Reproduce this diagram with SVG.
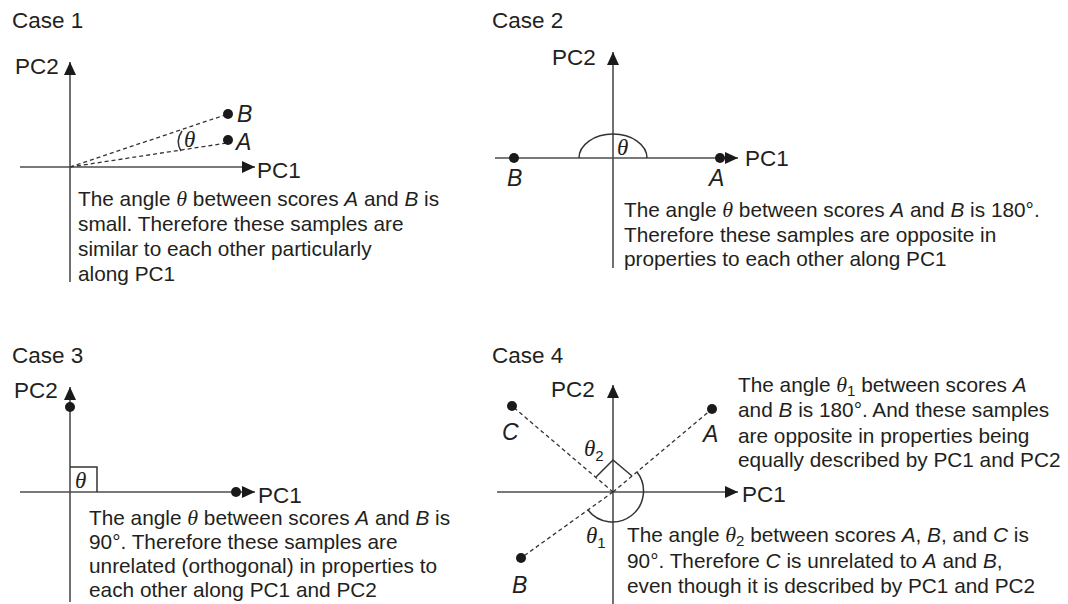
<svg xmlns="http://www.w3.org/2000/svg" width="1068" height="604" viewBox="0 0 1068 604">
<style>
text{font-family:"Liberation Sans",Arial,sans-serif;font-size:20.8px;fill:#231f20}
.lbl{font-size:22.5px}
.pt{font-size:23px;font-style:italic}
.th{font-family:"Liberation Serif","Times New Roman",serif;font-style:italic;font-size:22px}
.thl{font-family:"Liberation Serif","Times New Roman",serif;font-style:italic;font-size:23px}
.it{font-style:italic}
.sub{font-size:15px}
.axis{stroke:#4d4d4d;stroke-width:1.6;fill:none}
.dash{stroke:#333;stroke-width:1.3;stroke-dasharray:4 3;fill:none}
.mark{stroke:#333;stroke-width:1.5;fill:none}
.dot{fill:#1a1a1a}
</style>
<defs>
<marker id="arr" markerUnits="userSpaceOnUse" markerWidth="14" markerHeight="12" refX="13" refY="6" orient="auto">
<path d="M0,0 L13,6 L0,12 z" fill="#1a1a1a"/>
</marker>
</defs>
<rect width="1068" height="604" fill="#fff"/>

<g id="case1">
<text class="lbl" x="12" y="28">Case 1</text>
<g id="c1-axes">
<line class="axis" x1="70" y1="282" x2="70" y2="62" marker-end="url(#arr)"/>
<line class="axis" x1="20" y1="167" x2="255" y2="167" marker-end="url(#arr)"/>
<text class="lbl" x="15" y="74">PC2</text>
<text class="lbl" x="257" y="178">PC1</text>
</g>
<g id="c1-connectors">
<line class="dash" x1="70" y1="167" x2="228" y2="114"/>
<line class="dash" x1="70" y1="167" x2="227" y2="143"/>
<path class="mark" d="M182,131 Q175,141 181,151"/>
</g>
<g id="c1-B"><circle class="dot" cx="228" cy="114" r="5"/><text class="pt" x="237" y="122">B</text></g>
<g id="c1-A"><circle class="dot" cx="228" cy="140" r="5"/><text class="pt" x="236" y="150">A</text></g>
<text class="thl" x="184" y="147">θ</text>
<text x="78" y="206">The angle <tspan class="th">θ</tspan> between scores <tspan class="it">A</tspan> and <tspan class="it">B</tspan> is</text>
<text x="78" y="231">small. Therefore these samples are</text>
<text x="78" y="256">similar to each other particularly</text>
<text x="78" y="281">along PC1</text>
</g>

<g id="case2">
<text class="lbl" x="492" y="28">Case 2</text>
<g id="c2-axes">
<line class="axis" x1="613" y1="268" x2="613" y2="52" marker-end="url(#arr)"/>
<line class="axis" x1="495" y1="158" x2="738" y2="158" marker-end="url(#arr)"/>
<text class="lbl" x="552" y="65">PC2</text>
<text class="lbl" x="745" y="166">PC1</text>
</g>
<g id="c2-connectors">
<path class="mark" d="M579,158 A34,24 0 0 1 647,158"/>
</g>
<g id="c2-B"><circle class="dot" cx="514" cy="158" r="5"/><text class="pt" x="507" y="186">B</text></g>
<g id="c2-A"><circle class="dot" cx="720" cy="158" r="5"/><text class="pt" x="709" y="186">A</text></g>
<text class="thl" x="617" y="155">θ</text>
<text x="624" y="217">The angle <tspan class="th">θ</tspan> between scores <tspan class="it">A</tspan> and <tspan class="it">B</tspan> is 180°.</text>
<text x="624" y="242">Therefore these samples are opposite in</text>
<text x="624" y="266">properties to each other along PC1</text>
</g>

<g id="case3">
<text class="lbl" x="12" y="363">Case 3</text>
<g id="c3-axes">
<line class="axis" x1="70" y1="602" x2="70" y2="387" marker-end="url(#arr)"/>
<line class="axis" x1="20" y1="492" x2="255" y2="492" marker-end="url(#arr)"/>
<text class="lbl" x="14" y="398">PC2</text>
<text class="lbl" x="258" y="503">PC1</text>
</g>
<g id="c3-connectors">
<polyline class="mark" points="70,467 97,467 97,492"/>
</g>
<g id="c3-B"><circle class="dot" cx="70" cy="407" r="5"/></g>
<g id="c3-A"><circle class="dot" cx="236" cy="492" r="5"/></g>
<text class="thl" x="75" y="488">θ</text>
<text x="89" y="525">The angle <tspan class="th">θ</tspan> between scores <tspan class="it">A</tspan> and <tspan class="it">B</tspan> is</text>
<text x="89" y="549">90°. Therefore these samples are</text>
<text x="89" y="573">unrelated (orthogonal) in properties to</text>
<text x="89" y="597">each other along PC1 and PC2</text>
</g>

<g id="case4">
<text class="lbl" x="492" y="363">Case 4</text>
<g id="c4-axes">
<line class="axis" x1="613" y1="604" x2="613" y2="385" marker-end="url(#arr)"/>
<line class="axis" x1="497" y1="492" x2="738" y2="492" marker-end="url(#arr)"/>
<text class="lbl" x="551" y="397">PC2</text>
<text class="lbl" x="742" y="502">PC1</text>
</g>
<g id="c4-connectors">
<line class="dash" x1="613" y1="492" x2="712" y2="409"/>
<line class="dash" x1="613" y1="492" x2="521" y2="558"/>
<line class="dash" x1="613" y1="492" x2="512" y2="406"/>
<polyline class="mark" points="596,477 613,460 632,476"/>
<path class="mark" d="M637,472 A31,31 0 1 1 588,510"/>
</g>
<g id="c4-A"><circle class="dot" cx="712" cy="409" r="5"/><text class="pt" x="703" y="442">A</text></g>
<g id="c4-B"><circle class="dot" cx="521" cy="558" r="5"/><text class="pt" x="512" y="593">B</text></g>
<g id="c4-C"><circle class="dot" cx="512" cy="406" r="5"/><text class="pt" x="502" y="440">C</text></g>
<text x="584" y="456"><tspan class="thl">θ</tspan><tspan class="sub" dy="5">2</tspan></text>
<text x="586" y="543"><tspan class="thl">θ</tspan><tspan class="sub" dy="5">1</tspan></text>
<text x="738" y="392">The angle <tspan class="th">θ</tspan><tspan class="sub" dy="4">1</tspan><tspan dy="-4"> between scores </tspan><tspan class="it">A</tspan></text>
<text x="738" y="417">and <tspan class="it">B</tspan> is 180°. And these samples</text>
<text x="738" y="443">are opposite in properties being</text>
<text x="738" y="467">equally described by PC1 and PC2</text>
<text x="627" y="542">The angle <tspan class="th">θ</tspan><tspan class="sub" dy="4">2</tspan><tspan dy="-4"> between scores </tspan><tspan class="it">A</tspan>, <tspan class="it">B</tspan>, and <tspan class="it">C</tspan> is</text>
<text x="627" y="568">90°. Therefore <tspan class="it">C</tspan> is unrelated to <tspan class="it">A</tspan> and <tspan class="it">B</tspan>,</text>
<text x="627" y="593">even though it is described by PC1 and PC2</text>
</g>
</svg>
